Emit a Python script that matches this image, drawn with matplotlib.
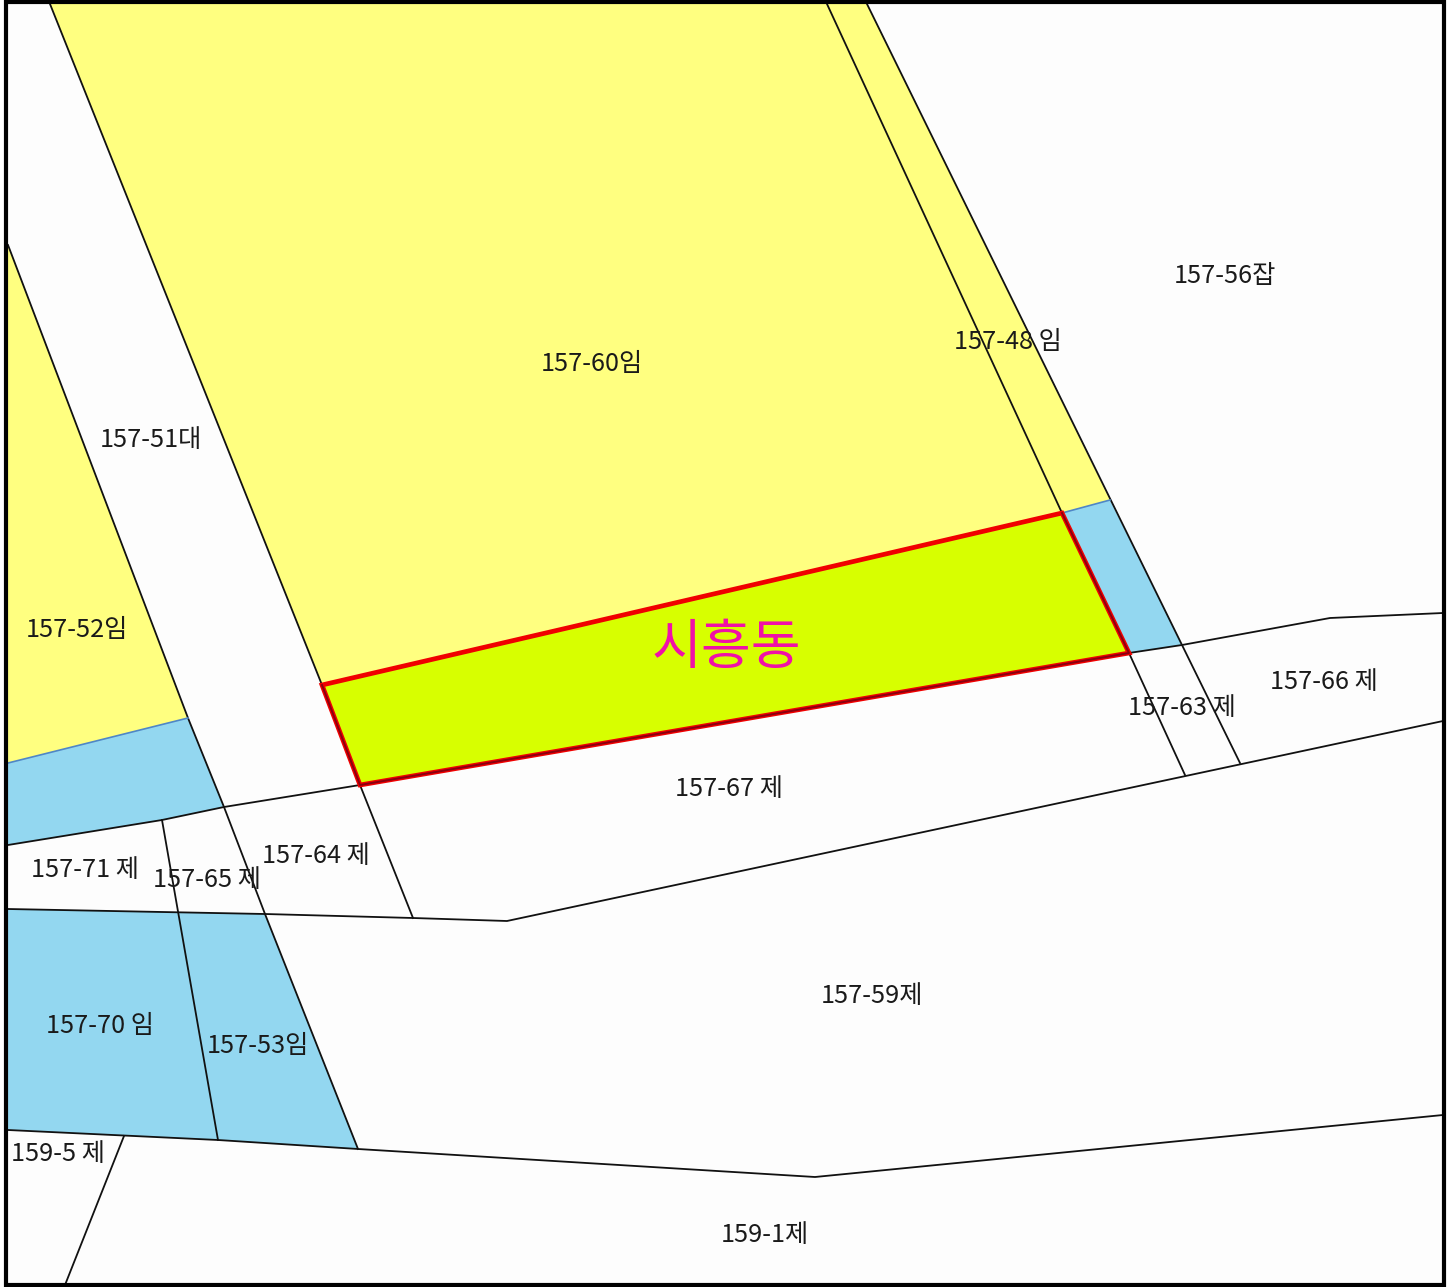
"""Cadastral map sheet around 시흥동, drawn in image pixel coordinates."""
import matplotlib
matplotlib.use("Agg")
import matplotlib.pyplot as plt
from matplotlib.patches import Polygon

W, H = 1452, 1287

# ── Parcels ────────────────────────────────────────────────────────────────────
sheet = [(6, 2), (1444, 2), (1444, 1285), (6, 1285)]
yellow_main = [(50, 4), (867, 4), (1110, 500), (1062, 513), (322, 685)]
yellow_left = [(8, 245), (188, 718), (8, 763)]
blue_right = [(1062, 513), (1110, 500), (1182, 645), (1129, 653)]
blue_left = [(8, 763), (188, 718), (224, 807), (162, 820), (8, 845)]
blue_bottom = [(8, 909), (265, 914), (358, 1149), (218, 1140), (8, 1130)]
subject_lot = [(322, 685), (1062, 513), (1129, 653), (360, 785)]

# ── Boundary lines ─────────────────────────────────────────────────────────────
boundaries = [
    [(50, 4), (322, 685)],
    [(8, 245), (188, 718), (224, 807), (265, 914), (358, 1149)],
    [(827, 4), (1062, 513)],
    [(867, 4), (1182, 645), (1240, 763)],
    [(1129, 653), (1185, 775)],
    [(360, 785), (413, 918)],
    [(162, 820), (218, 1140)],
    [(124, 1136), (65, 1285)],
    [(8, 845), (162, 820), (224, 807), (360, 785)],
    [(1129, 653), (1182, 645), (1330, 618), (1443, 613)],
    [(8, 909), (265, 914), (413, 918), (507, 921), (1443, 721)],
    [(8, 1130), (218, 1140), (358, 1149), (815, 1177), (1443, 1115)],
]
blue_edges = [
    [(8, 763), (188, 718)],
    [(1062, 513), (1110, 500)],
]

# ── Labels ─────────────────────────────────────────────────────────────────────
label_text = [
    "157-56잡", "157-48 임", "157-60임", "157-51대", "157-52임", "157-66 제",
    "157-63 제", "157-67 제", "157-64 제", "157-71 제", "157-65 제", "157-59제",
    "157-70 임", "157-53임", "159-5 제", "159-1제",
]
label_x = [1225, 1008, 592, 151, 77, 1324, 1182, 729, 316, 85, 207, 872, 100, 258, 58, 765]
label_y = [276, 342, 364, 440, 630, 682, 708, 789, 856, 870, 880, 996, 1026, 1046, 1154, 1235]

district_name = "시흥동"
district_x, district_y = 726, 649

BLUE = "#93D7F0"
YELLOW = "#FFFF80"
LIME = "#D7FF00"

plt.rcParams["font.family"] = ["Noto Sans CJK KR", "DejaVu Sans"]

fig = plt.figure(figsize=(W / 100, H / 100), dpi=100, facecolor="white")
ax = fig.add_axes([0, 0, 1, 1])
ax.set_xlim(0, W)
ax.set_ylim(H, 0)
ax.axis("off")

# sheet background and outer frame
ax.add_patch(Polygon(sheet, closed=True, facecolor="#FDFDFD", edgecolor="none", zorder=0))
ax.add_patch(Polygon(sheet, closed=True, facecolor="none", edgecolor="black",
                     linewidth=3.0, zorder=5))

for poly, colour in [(yellow_main, YELLOW), (yellow_left, YELLOW), (blue_right, BLUE),
                     (blue_left, BLUE), (blue_bottom, BLUE)]:
    ax.add_patch(Polygon(poly, closed=True, facecolor=colour, edgecolor="none", zorder=1))

for line in boundaries:
    xs, ys = zip(*line)
    ax.plot(xs, ys, color="#111111", linewidth=1.3, zorder=2)

for line in blue_edges:
    xs, ys = zip(*line)
    ax.plot(xs, ys, color="#4F86C6", linewidth=1.2, zorder=2)

# subject lot: bright red outline with a dark core on the lower edges
ax.add_patch(Polygon(subject_lot, closed=True, facecolor=LIME, edgecolor="#F00000",
                     linewidth=3.4, joinstyle="miter", zorder=3))
core = [subject_lot[1], subject_lot[2], subject_lot[3], subject_lot[0]]
xs, ys = zip(*core)
ax.plot(xs, ys, color="#8A0010", linewidth=1.4, zorder=4)

for text, x, y in zip(label_text, label_x, label_y):
    ax.text(x, y, text, fontsize=18.2, color="#1A1A1A", ha="center", va="center", zorder=6)

ax.text(district_x, district_y, district_name, fontsize=39, fontweight="medium",
        color="#F010A8", ha="center", va="center", zorder=6)

fig.savefig("out.png", dpi=100)
plt.close(fig)
